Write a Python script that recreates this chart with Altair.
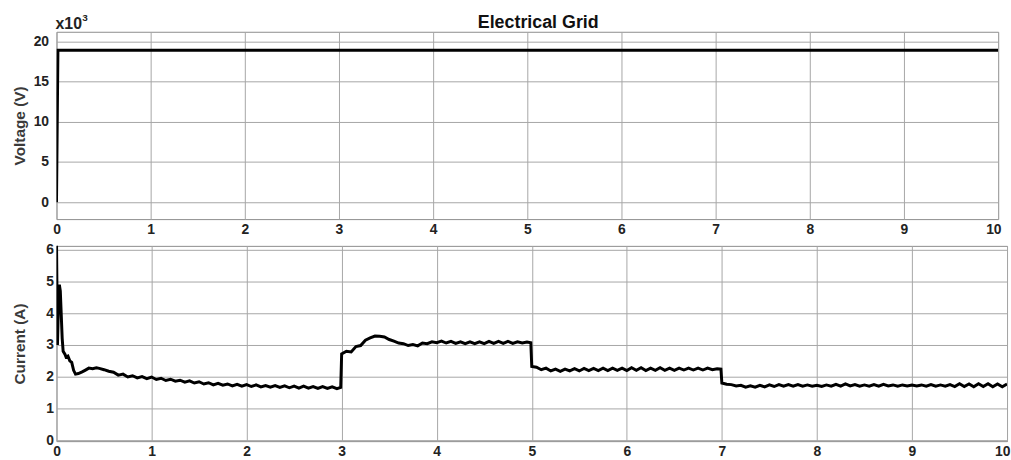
import altair as alt
import pandas as pd

FONT = "Liberation Sans"

# ---------------- data ----------------
volt_t = [0.0, 0.015, 10.0]
volt_v = [0, 18900, 18900]

# early transient of the current
cur_t_start = [0.0, 0.01, 0.02, 0.03, 0.04, 0.06, 0.07, 0.09, 0.10, 0.12, 0.14, 0.16,
               0.18, 0.20, 0.23, 0.27, 0.30, 0.34, 0.38, 0.42, 0.45]
cur_v_start = [6.3, 3.0, 4.2, 4.9, 4.7, 3.2, 2.8, 2.7, 2.62, 2.65, 2.5, 2.45,
               2.2, 2.08, 2.1, 2.15, 2.2, 2.27, 2.25, 2.28, 2.26]

# sampled segments (start time, sample step, values), plus last sample before each step change
seg_a_start, seg_a_step = 0.50, 0.05
seg_a = [2.22, 2.17, 2.14, 2.05, 2.08, 1.99, 2.03, 1.96, 2.00, 1.94,
         1.99, 1.91, 1.95, 1.88, 1.92, 1.86, 1.89, 1.83, 1.87, 1.80,
         1.84, 1.77, 1.81, 1.74, 1.79, 1.73, 1.77, 1.71, 1.76, 1.70,
         1.75, 1.69, 1.74, 1.68, 1.72, 1.67, 1.72, 1.66, 1.71, 1.65,
         1.70, 1.64, 1.70, 1.64, 1.69, 1.63, 1.69, 1.63, 1.68, 1.62]
seg_a_end = (2.99, 1.66)

seg_b_start, seg_b_step = 3.00, 0.05
seg_b = [2.72, 2.80, 2.78, 2.95, 2.98, 3.15, 3.22, 3.28, 3.27, 3.25,
         3.17, 3.12, 3.06, 3.04, 2.98, 3.01, 2.97, 3.06, 3.04, 3.10,
         3.07, 3.12, 3.06, 3.11, 3.05, 3.10, 3.04, 3.10, 3.04, 3.10,
         3.04, 3.11, 3.05, 3.11, 3.05, 3.11, 3.05, 3.10, 3.06, 3.09]
seg_b_end = (4.99, 3.07)

seg_c_start, seg_c_step = 5.00, 0.05
seg_c = [2.32, 2.30, 2.22, 2.27, 2.18, 2.24, 2.17, 2.24, 2.18, 2.25,
         2.18, 2.26, 2.19, 2.26, 2.19, 2.27, 2.19, 2.27, 2.20, 2.27,
         2.19, 2.28, 2.20, 2.28, 2.19, 2.27, 2.20, 2.28, 2.20, 2.27,
         2.20, 2.27, 2.21, 2.27, 2.21, 2.27, 2.21, 2.27, 2.22, 2.25]
seg_c_end = (6.99, 2.24)

seg_d_start, seg_d_step = 7.00, 0.05
seg_d = [1.80, 1.76, 1.75, 1.71, 1.73, 1.67, 1.71, 1.67, 1.73, 1.68,
         1.74, 1.69, 1.75, 1.70, 1.75, 1.70, 1.75, 1.70, 1.74, 1.70,
         1.73, 1.69, 1.74, 1.70, 1.76, 1.70, 1.77, 1.71, 1.75, 1.70,
         1.74, 1.70, 1.75, 1.70, 1.76, 1.71, 1.74, 1.70, 1.74, 1.71,
         1.74, 1.71, 1.74, 1.70, 1.75, 1.70, 1.74, 1.70, 1.75, 1.69,
         1.78, 1.69, 1.77, 1.68, 1.78, 1.69, 1.78, 1.68, 1.77, 1.68,
         1.77]

x_ticks = [0, 1, 2, 3, 4, 5, 6, 7, 8, 9, 10]
volt_ticks = [0, 5000, 10000, 15000, 20000]
cur_ticks = [0, 1, 2, 3, 4, 5, 6]

# ---------------- tables ----------------
cur_t = list(cur_t_start)
cur_v = list(cur_v_start)
for start, step, vals, end in [(seg_a_start, seg_a_step, seg_a, seg_a_end),
                               (seg_b_start, seg_b_step, seg_b, seg_b_end),
                               (seg_c_start, seg_c_step, seg_c, seg_c_end),
                               (seg_d_start, seg_d_step, seg_d, None)]:
    for i, v in enumerate(vals):
        cur_t.append(round(start + step * i, 4))
        cur_v.append(v)
    if end is not None:
        cur_t.append(end[0])
        cur_v.append(end[1])

volt_df = pd.DataFrame({"t": volt_t, "v": volt_v})
cur_df = pd.DataFrame({"t": cur_t, "i": cur_v})

axis_common = dict(
    labelFont=FONT, labelFontWeight="bold", labelFontSize=14, labelColor="#222222",
    titleFont=FONT, titleFontWeight="bold", titleFontSize=15.5, titleColor="#3a3a3a",
    grid=True, gridColor="#a6a6a6", gridWidth=1, ticks=False, domain=False,
)

def x_axis():
    return alt.Axis(
        values=x_ticks, title=None, labelPadding=4,
        labelAlign={"condition": {"test": "datum.value == 10", "value": "right"}, "value": "center"},
        labelOffset={"condition": {"test": "datum.value == 10", "value": 3}, "value": 0},
        **axis_common,
    )

# ---------------- top panel ----------------
volt_line = alt.Chart(volt_df).mark_line(color="black", strokeWidth=3, clip=True).encode(
    x=alt.X("t:Q", scale=alt.Scale(domain=[0, 10], nice=False, zero=False), axis=x_axis()),
    y=alt.Y("v:Q", scale=alt.Scale(domain=[-2100, 21200], nice=False, zero=False),
            axis=alt.Axis(values=volt_ticks, title="Voltage (V)", labelExpr="datum.value / 1000",
                          labelPadding=8, titlePadding=6, **axis_common)),
)

title_df = pd.DataFrame({"label": ["Electrical Grid"]})
title_text = alt.Chart(title_df).mark_text(
    font=FONT, fontSize=18, fontWeight="bold", color="#111111", align="center", baseline="alphabetic"
).encode(x=alt.value(486), y=alt.value(-4), text="label:N")

mult_df = pd.DataFrame({"label": ["x10"]})
mult_text = alt.Chart(mult_df).mark_text(
    font=FONT, fontSize=16, fontWeight="bold", color="#222222", align="left", baseline="alphabetic"
).encode(x=alt.value(-1), y=alt.value(-3), text="label:N")

exp_df = pd.DataFrame({"label": ["3"]})
exp_text = alt.Chart(exp_df).mark_text(
    font=FONT, fontSize=10, fontWeight="bold", color="#222222", align="left", baseline="alphabetic"
).encode(x=alt.value(26), y=alt.value(-11), text="label:N")

top = alt.layer(volt_line, title_text, mult_text, exp_text).properties(width=950, height=189)

# ---------------- bottom panel ----------------
cur_line = alt.Chart(cur_df).mark_line(color="black", strokeWidth=3, clip=True).encode(
    x=alt.X("t:Q", scale=alt.Scale(domain=[0, 10], nice=False, zero=False), axis=x_axis()),
    y=alt.Y("i:Q", scale=alt.Scale(domain=[-0.03, 6.12], nice=False, zero=False),
            axis=alt.Axis(values=cur_ticks, title="Current (A)", labelPadding=3, titlePadding=18,
                          **axis_common)),
)
bottom = cur_line.properties(width=959, height=197)

chart = alt.ConcatChart(
    concat=[top, bottom], columns=1, align="none", spacing=4,
    padding={"left": 11, "top": 10, "right": 0, "bottom": 0},
    background="white",
).resolve_scale(x="independent", y="independent").configure_view(stroke="#8c8c8c", strokeWidth=1)

chart.save("out.html", embed_options={"renderer": "svg", "actions": False})
